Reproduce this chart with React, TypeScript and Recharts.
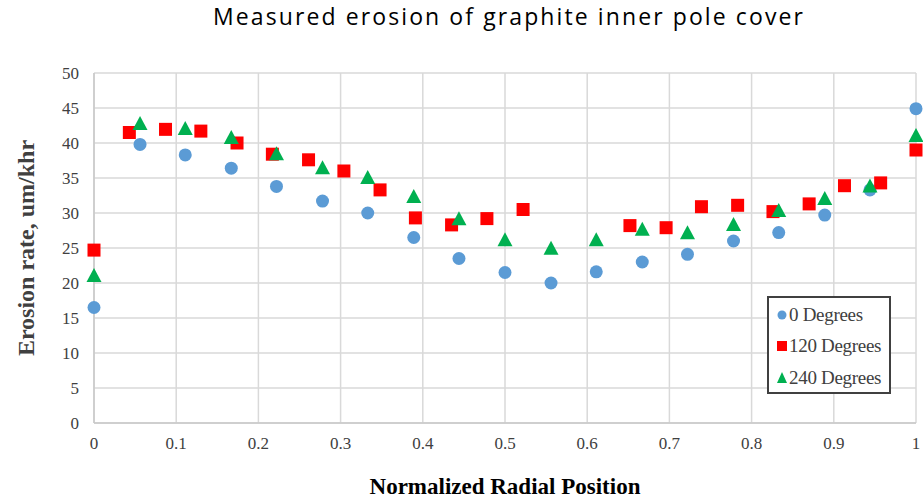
import { ScatterChart, Scatter, XAxis, YAxis, CartesianGrid, Label } from 'recharts';

const evenPositions = [0, 0.056, 0.111, 0.167, 0.222, 0.278, 0.333, 0.389, 0.444, 0.5, 0.556, 0.611, 0.667, 0.722, 0.778, 0.833, 0.889, 0.944, 1];
const deg0 = [16.5, 39.8, 38.3, 36.4, 33.8, 31.7, 30.0, 26.5, 23.5, 21.5, 20.0, 21.6, 23.0, 24.1, 26.0, 27.2, 29.7, 33.3, 44.9];
const deg240 = [21.0, 42.7, 42.0, 40.7, 38.4, 36.4, 35.0, 32.3, 29.1, 26.1, 24.9, 26.1, 27.6, 27.1, 28.3, 30.3, 32.0, 33.8, 41.0];

const redPositions = [0, 0.043, 0.087, 0.13, 0.174, 0.217, 0.261, 0.304, 0.348, 0.391, 0.435, 0.478, 0.522, 0.652, 0.696, 0.739, 0.783, 0.826, 0.87, 0.913, 0.957, 1];
const deg120 = [24.7, 41.5, 41.95, 41.7, 40.0, 38.4, 37.6, 36.0, 33.3, 29.3, 28.3, 29.2, 30.5, 28.2, 27.9, 30.9, 31.1, 30.2, 31.3, 33.9, 34.3, 39.0];

const xTicks = [0, 0.1, 0.2, 0.3, 0.4, 0.5, 0.6, 0.7, 0.8, 0.9, 1];
const yTicks = [0, 5, 10, 15, 20, 25, 30, 35, 40, 45, 50];

const BLUE = '#5B9BD5';
const RED = '#FF0000';
const GREEN = '#00B050';

const zip = (xs: number[], ys: number[]) => xs.map((x, i) => ({ x, y: ys[i] }));

const dot = (p: any) => <circle cx={p.cx} cy={p.cy} r={6.5} fill={BLUE} />;
const square = (p: any) => <rect x={p.cx - 6.5} y={p.cy - 6.5} width={13} height={13} fill={RED} />;
const triangle = (p: any) => (
  <polygon points={`${p.cx},${p.cy - 8} ${p.cx + 7.5},${p.cy + 6} ${p.cx - 7.5},${p.cy + 6}`} fill={GREEN} />
);

const serif = '"Liberation Serif", "Times New Roman", serif';

const LegendBox = () => {
  const items = [
    { label: '0 Degrees', mark: <circle cx={6} cy={8} r={4.5} fill={BLUE} /> },
    { label: '120 Degrees', mark: <rect x={1} y={3} width={10} height={10} fill={RED} /> },
    { label: '240 Degrees', mark: <polygon points="6,2 11,13 1,13" fill={GREEN} /> },
  ];
  return (
    <div
      style={{
        position: 'absolute',
        left: 767,
        top: 296,
        border: '2px solid #404040',
        background: '#fff',
        width: 124,
        height: 98,
        boxSizing: 'border-box',
        padding: '1px 0 0 7px',
        fontFamily: serif,
        fontSize: 19,
        color: '#404040',
      }}
    >
      {items.map((it) => (
        <div key={it.label} style={{ display: 'flex', alignItems: 'center', height: 31.5 }}>
          <svg width={12} height={16} style={{ marginRight: 1 }}>
            {it.mark}
          </svg>
          <span style={{ letterSpacing: -0.3, whiteSpace: 'nowrap' }}>{it.label}</span>
        </div>
      ))}
    </div>
  );
};

export default function App() {
  return (
    <div style={{ position: 'absolute', left: 0, top: 0, width: 923, height: 500, background: '#fff' }}>
      <div
        style={{
          position: 'absolute',
          left: 0,
          top: 0,
          width: 1018,
          textAlign: 'center',
          fontFamily: '"Open Sans", sans-serif',
          fontSize: 23,
          letterSpacing: 2.1,
          color: '#000',
          whiteSpace: 'nowrap',
        }}
      >
        Measured erosion of graphite inner pole cover
      </div>
      <ScatterChart width={923} height={500} margin={{ top: 73, right: 7, bottom: 47, left: 34 }}>
        <CartesianGrid stroke="#d9d9d9" strokeWidth={1.5} />
        <XAxis
          type="number"
          dataKey="x"
          domain={[0, 1]}
          ticks={xTicks}
          tickFormatter={(v: number) => String(v)}
          tickSize={0}
          tickMargin={14}
          height={30}
          stroke="#c8c8c8"
          strokeWidth={1.5}
          tick={{ fill: '#404040', fontFamily: serif, fontSize: 17 }}
        >
          <Label
            value="Normalized Radial Position"
            position="bottom"
            offset={25}
            style={{ fontFamily: serif, fontWeight: 'bold', fontSize: 23, fill: '#000' }}
          />
        </XAxis>
        <YAxis
          type="number"
          dataKey="y"
          domain={[0, 50]}
          ticks={yTicks}
          tickSize={0}
          tickMargin={15}
          width={60}
          stroke="#c8c8c8"
          strokeWidth={1.5}
          tick={{ fill: '#404040', fontFamily: serif, fontSize: 17 }}
        >
          <Label
            value="Erosion rate, um/khr"
            angle={-90}
            position="left"
            offset={9}
            style={{ fontFamily: serif, fontWeight: 'bold', fontSize: 24, fill: '#404040', textAnchor: 'middle' }}
          />
        </YAxis>
        <Scatter name="0 Degrees" data={zip(evenPositions, deg0)} shape={dot} isAnimationActive={false} />
        <Scatter name="120 Degrees" data={zip(redPositions, deg120)} shape={square} isAnimationActive={false} />
        <Scatter name="240 Degrees" data={zip(evenPositions, deg240)} shape={triangle} isAnimationActive={false} />
      </ScatterChart>
      <LegendBox />
    </div>
  );
}
